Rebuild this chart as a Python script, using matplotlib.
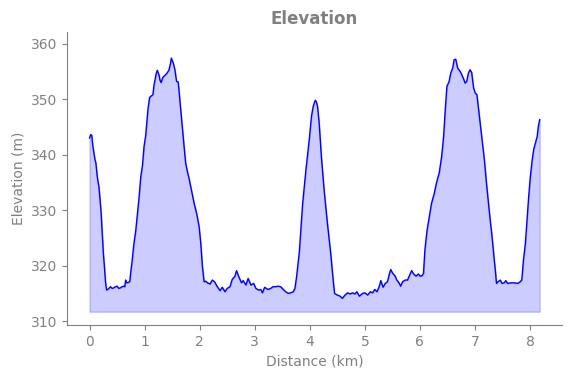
import matplotlib
matplotlib.use("Agg")
import matplotlib.pyplot as plt

distance_km = [
    0.00, 0.02, 0.04, 0.06, 0.08, 0.10, 0.115, 0.14, 0.17, 0.19, 0.21, 0.23, 0.25, 0.27, 0.29, 0.31,
    0.34, 0.36, 0.38, 0.41, 0.44, 0.47, 0.50, 0.53, 0.56, 0.59, 0.62, 0.64, 0.655, 0.67, 0.685, 0.73,
    0.75, 0.775, 0.80, 0.84, 0.87, 0.90, 0.93, 0.96, 0.99, 1.02, 1.06, 1.09, 1.11, 1.15, 1.17, 1.19,
    1.21, 1.23, 1.26, 1.28, 1.30, 1.33, 1.35, 1.40, 1.44, 1.47, 1.485, 1.52, 1.55, 1.58, 1.61, 1.655,
    1.70, 1.745, 1.78, 1.805, 1.85, 1.90, 1.945, 1.99, 2.02, 2.05, 2.08, 2.11, 2.14, 2.19, 2.23, 2.27,
    2.32, 2.37, 2.41, 2.46, 2.50, 2.55, 2.59, 2.64, 2.67, 2.71, 2.76, 2.79, 2.84, 2.88, 2.93, 2.98,
    3.02, 3.07, 3.11, 3.14, 3.18, 3.24, 3.29, 3.33, 3.38, 3.42, 3.47, 3.52, 3.56, 3.61, 3.65, 3.70,
    3.73, 3.76, 3.81, 3.87, 3.93, 3.99, 4.03, 4.06, 4.08, 4.10, 4.12, 4.14, 4.17, 4.21, 4.26, 4.32,
    4.38, 4.43, 4.45, 4.50, 4.55, 4.59, 4.64, 4.685, 4.73, 4.78, 4.82, 4.855, 4.90, 4.96, 5.00, 5.05,
    5.10, 5.14, 5.18, 5.22, 5.26, 5.29, 5.33, 5.37, 5.41, 5.44, 5.47, 5.50, 5.55, 5.58, 5.62, 5.65,
    5.685, 5.73, 5.775, 5.80, 5.85, 5.885, 5.93, 5.97, 6.005, 6.04, 6.065, 6.09, 6.13, 6.17, 6.21, 6.26,
    6.30, 6.35, 6.395, 6.43, 6.46, 6.49, 6.53, 6.56, 6.595, 6.62, 6.65, 6.685, 6.73, 6.76, 6.795, 6.82,
    6.85, 6.88, 6.91, 6.94, 6.975, 7.005, 7.035, 7.08, 7.12, 7.17, 7.215, 7.27, 7.31, 7.35, 7.375, 7.39,
    7.42, 7.46, 7.49, 7.53, 7.56, 7.59, 7.65, 7.71, 7.78, 7.82, 7.85, 7.88, 7.915, 7.945, 7.975, 8.005,
    8.04, 8.065, 8.09, 8.13, 8.15, 8.175,
]

elevation_m = [
    343.0, 343.6, 343.5, 341.5, 340.3, 339.0, 338.5, 336.0, 334.2, 332.0, 329.5, 326.0, 322.3, 319.8, 317.0, 315.6,
    315.8, 316.0, 316.2, 315.9, 316.0, 316.2, 316.3, 315.9, 316.0, 316.2, 316.3, 316.2, 317.4, 317.0, 316.9, 317.1,
    319.0, 321.0, 323.5, 326.4, 329.5, 332.4, 336.0, 338.0, 341.5, 343.5, 348.1, 350.3, 350.5, 350.8, 352.5, 353.5,
    354.6, 355.2, 354.4, 353.4, 353.0, 353.9, 354.1, 354.6, 355.2, 356.4, 357.4, 356.5, 355.3, 353.2, 353.1, 348.1,
    343.3, 338.5, 336.8, 335.8, 333.6, 331.2, 329.4, 327.0, 324.0, 319.8, 317.1, 317.2, 316.9, 316.7, 317.4, 317.1,
    316.2, 315.5, 316.1, 315.3, 315.9, 316.2, 317.5, 318.1, 319.1, 318.0, 316.9, 317.3, 316.5, 317.7, 316.5, 316.8,
    315.9, 315.6, 315.7, 315.1, 316.1, 315.7, 315.9, 316.2, 316.2, 316.3, 316.2, 315.7, 315.3, 315.0, 315.1, 315.3,
    315.9, 318.0, 322.5, 331.2, 337.3, 342.7, 346.9, 348.6, 349.3, 349.8, 349.5, 348.7, 345.7, 339.7, 333.6, 327.6,
    322.2, 316.8, 315.0, 314.7, 314.5, 314.1, 314.7, 315.1, 314.9, 315.1, 314.9, 315.3, 314.5, 315.0, 315.1, 314.7,
    315.3, 315.1, 315.7, 315.3, 316.2, 317.3, 316.1, 316.8, 317.1, 318.3, 319.3, 318.7, 318.1, 317.4, 316.9, 316.3,
    317.1, 317.4, 317.4, 318.0, 319.1, 318.5, 318.1, 318.5, 318.1, 318.2, 318.6, 322.8, 326.4, 328.8, 331.2, 333.0,
    334.9, 336.7, 339.7, 343.3, 348.1, 352.3, 353.2, 354.7, 355.6, 357.1, 357.2, 355.6, 355.0, 354.4, 353.6, 352.9,
    353.2, 354.7, 355.3, 354.8, 352.0, 351.1, 350.8, 346.9, 343.3, 339.1, 334.2, 328.8, 325.2, 321.0, 318.6, 316.8,
    317.1, 317.4, 316.8, 316.9, 317.3, 316.8, 316.9, 316.9, 316.8, 317.1, 317.4, 321.0, 324.0, 328.2, 332.4, 336.0,
    339.1, 340.9, 341.8, 343.3, 345.1, 346.3,
]

fill_base_m = 311.7
title = "Elevation"
xlabel = "Distance (km)"
ylabel = "Elevation (m)"
x_ticks = [0, 1, 2, 3, 4, 5, 6, 7, 8]
y_ticks = [310, 320, 330, 340, 350, 360]

fig = plt.figure(figsize=(5.71, 3.78), dpi=100)
ax = fig.add_axes([0.1173, 0.1402, 0.8669, 0.7751])

ax.fill_between(distance_km, elevation_m, fill_base_m, color="blue", alpha=0.2)
ax.plot(distance_km, elevation_m, color="blue", linewidth=1.0)

ax.set_xlim(-0.41, 8.58)
ax.set_ylim(309.3, 362.1)
ax.set_xticks(x_ticks)
ax.set_yticks(y_ticks)

txt = "#808080"
ax.set_title(title, color=txt, fontsize=12, fontweight="bold")
ax.set_xlabel(xlabel, color=txt, fontsize=10)
ax.set_ylabel(ylabel, color=txt, fontsize=10)
ax.tick_params(colors=txt, labelsize=10)
for s in ["top", "right"]:
    ax.spines[s].set_visible(False)
for s in ["left", "bottom"]:
    ax.spines[s].set_color(txt)

fig.savefig("out.png", dpi=100)
